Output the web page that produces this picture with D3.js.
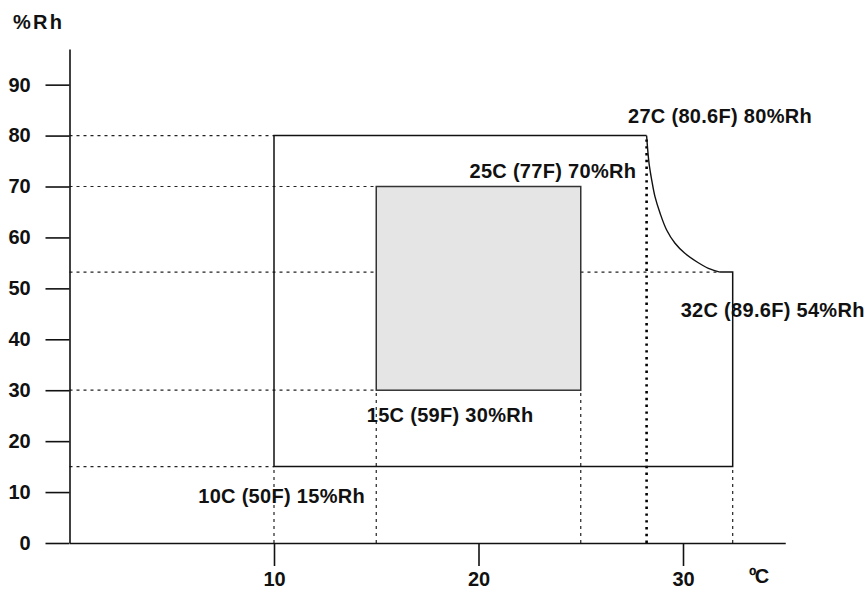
<!DOCTYPE html>
<html>
<head>
<meta charset="utf-8">
<script src="https://cdn.jsdelivr.net/npm/d3@7"></script>
<style>
  html, body { margin: 0; padding: 0; background: #fff; }
  svg text { font-family: "Liberation Sans", Arial, sans-serif; font-weight: bold; fill: #111; }
</style>
</head>
<body>
<svg id="chart" width="867" height="589"></svg>
<script>
// ---- data ----
const yTicks = [0, 10, 20, 30, 40, 50, 60, 70, 80, 90];
const xTicks = [10, 20, 30];
const yAxisTitle = "%Rh";
const xAxisTitle = "ºC";

// outer operating envelope (straight part), temperature °C, humidity %Rh
const envelopeLeftTop = [[28.22, 80], [10, 80], [10, 15], [32.43, 15], [32.43, 53.2], [31.81, 53.2]];
// derating curve from the upper right corner down to the step
const envelopeCurve = [[28.22, 80], [28.34, 74.55], [28.47, 71.27], [28.63, 68.0], [28.88, 64.74],
  [29.2, 61.46], [29.61, 58.85], [30.09, 56.88], [30.67, 55.23], [31.24, 53.94], [31.81, 53.2]];
// recommended (grey) zone
const innerX = [15, 25];
const innerY = [30, 70];

// dashed guide lines: horizontal [y, xEnd] from the axis, vertical [x, yEnd] from the axis
const hGuides = [[80, 10], [70, 15], [53.2, 31.81], [30, 15], [15, 10]];
const vGuides = [[10, 15], [15, 30], [25, 30], [32.43, 15]];
const vDotted = [[28.22, 80]];

const annotations = [
  { text: "27C (80.6F) 80%Rh", x: 28.22, y: 80, anchor: "start", dx: -18.6, dy: -12.2 },
  { text: "25C (77F) 70%Rh", x: 25, y: 70, anchor: "end", dx: 55.5, dy: -8.5 },
  { text: "32C (89.6F) 54%Rh", x: 32.43, y: 53.2, anchor: "middle", dx: 40, dy: 45 },
  { text: "15C (59F) 30%Rh", x: 15, y: 30, anchor: "start", dx: -9.5, dy: 32 },
  { text: "10C (50F) 15%Rh", x: 10, y: 15, anchor: "end", dx: 91, dy: 36.5 }
];

// ---- chart ----
const svg = d3.select("#chart");
const x = d3.scaleLinear().domain([0, 35]).range([69.5, 785.25]);
const y = d3.scaleLinear().domain([0, 97]).range([543, 49]);

const FS = 20;

// guides
const guides = svg.append("g");
guides.selectAll("line.h").data(hGuides).join("line")
  .attr("x1", x(0)).attr("x2", d => x(d[1]))
  .attr("y1", d => y(d[0])).attr("y2", d => y(d[0]))
  .attr("stroke", "#222").attr("stroke-width", 1.2).attr("stroke-dasharray", "3,4");
guides.selectAll("line.v").data(vGuides).join("line")
  .attr("x1", d => x(d[0])).attr("x2", d => x(d[0]))
  .attr("y1", y(0)).attr("y2", d => y(d[1]))
  .attr("stroke", "#222").attr("stroke-width", 1.2).attr("stroke-dasharray", "3,4");
guides.selectAll("line.d").data(vDotted).join("line")
  .attr("x1", d => x(d[0])).attr("x2", d => x(d[0]))
  .attr("y1", y(0)).attr("y2", d => y(d[1]))
  .attr("stroke", "#000").attr("stroke-width", 2.6).attr("stroke-dasharray", "2.4,4.4");

// inner grey zone
svg.append("rect")
  .attr("x", x(innerX[0])).attr("y", y(innerY[1]))
  .attr("width", x(innerX[1]) - x(innerX[0]))
  .attr("height", y(innerY[0]) - y(innerY[1]))
  .attr("fill", "#e5e5e5").attr("stroke", "#333").attr("stroke-width", 1.5);

// outer envelope
const line = d3.line().x(d => x(d[0])).y(d => y(d[1]));
svg.append("path").attr("d", line(envelopeLeftTop))
  .attr("fill", "none").attr("stroke", "#111").attr("stroke-width", 1.5);
svg.append("path").attr("d", line.curve(d3.curveCatmullRom)(envelopeCurve))
  .attr("fill", "none").attr("stroke", "#111").attr("stroke-width", 1.4);

// axes
const yAxis = svg.append("g").attr("transform", `translate(${x(0)},0)`)
  .call(d3.axisLeft(y).tickValues(yTicks).tickSize(24).tickSizeOuter(0).tickPadding(14.8));
const xAxis = svg.append("g").attr("transform", `translate(0,${y(0)})`)
  .call(d3.axisBottom(x).tickValues(xTicks).tickSize(23).tickSizeOuter(0).tickPadding(6));
[yAxis, xAxis].forEach(g => {
  g.attr("font-family", null).attr("font-size", null);
  g.selectAll("path, line").attr("stroke", "#111").attr("stroke-width", 1.6);
  g.selectAll("text").style("font-size", FS + "px").attr("fill", "#111");
});

// axis titles
svg.append("text").attr("x", 13).attr("y", 29)
  .style("font-size", FS + "px").style("letter-spacing", "2.3px").text(yAxisTitle);
svg.append("text").attr("x", 749).attr("y", 583)
  .style("font-size", FS + "px").style("letter-spacing", "-1.5px").text(xAxisTitle);

// annotations
svg.selectAll("text.ann").data(annotations).join("text")
  .attr("class", "ann")
  .attr("x", d => x(d.x) + d.dx).attr("y", d => y(d.y) + d.dy)
  .attr("text-anchor", d => d.anchor)
  .style("font-size", FS + "px").style("letter-spacing", "0.3px")
  .text(d => d.text);
</script>
</body>
</html>
